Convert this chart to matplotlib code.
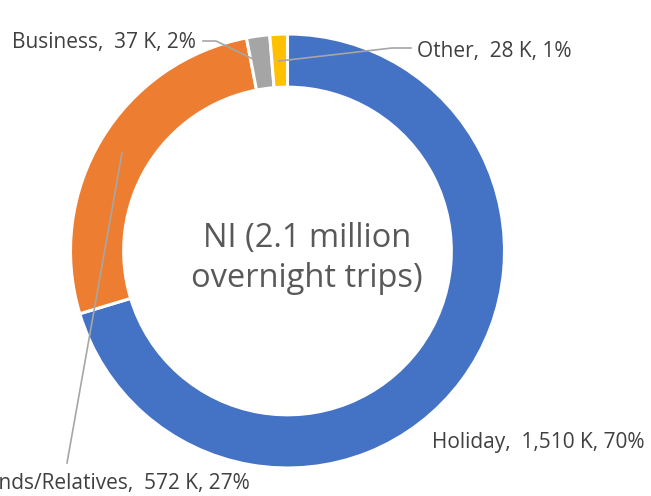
"""Donut chart: NI overnight trips by purpose."""

import matplotlib
matplotlib.use("Agg")
import matplotlib.pyplot as plt

# data (thousands of trips)
purposes = ["Holiday", "Visiting Friends/Relatives", "Business", "Other"]
trips_k = [1510, 572, 37, 28]
shares = [70, 27, 2, 1]
colors = ["#4472C4", "#ED7D31", "#A5A5A5", "#FFC000"]
centre_lines = ["NI (2.1 million", "overnight trips)"]

W, H = 651, 496
fig = plt.figure(figsize=(W / 100, H / 100), dpi=100)
ax = fig.add_axes([0, 0, 1, 1])

cx, cy, r = 287.5, 251, 217
# y axis gets inverted below, so counterclock=True ends up clockwise on screen
wedges, _ = ax.pie(trips_k, colors=colors, startangle=-90, counterclock=True,
                   center=(cx, cy), radius=r, frame=True,
                   wedgeprops=dict(width=r * 0.245, edgecolor="white", linewidth=2.2))
ax.set_xlim(0, W); ax.set_ylim(H, 0)
ax.set_aspect("equal"); ax.axis("off")

ctr = dict(fontsize=23.5, color="#595959", family="Open Sans", ha="center", va="baseline")
ax.text(307, 246.5, centre_lines[0], **ctr)
ax.text(307, 287, centre_lines[1], **ctr)

lbl = dict(fontsize=15, color="#404040", family="Open Sans", va="baseline")
lines = dict(color="#A6A6A6", lw=1.2)
labels = [f"{p},  {t:,} K, {s}%" for p, t, s in zip(purposes, trips_k, shares)]

# Holiday, no leader
ax.text(432, 448, labels[0], ha="left", **lbl)
# VFR (runs off the left edge, as in the reference)
ax.text(250, 489, labels[1], ha="right", **lbl)
ax.plot([122, 67], [153, 463], **lines)
# Business
ax.text(196, 48, labels[2], ha="right", **lbl)
ax.plot([203, 216, 253], [41, 41, 59], **lines)
# Other
ax.text(417, 57, labels[3], ha="left", **lbl)
ax.plot([279, 392, 411], [61, 48, 48], **lines)

fig.savefig("out.png", dpi=100)
